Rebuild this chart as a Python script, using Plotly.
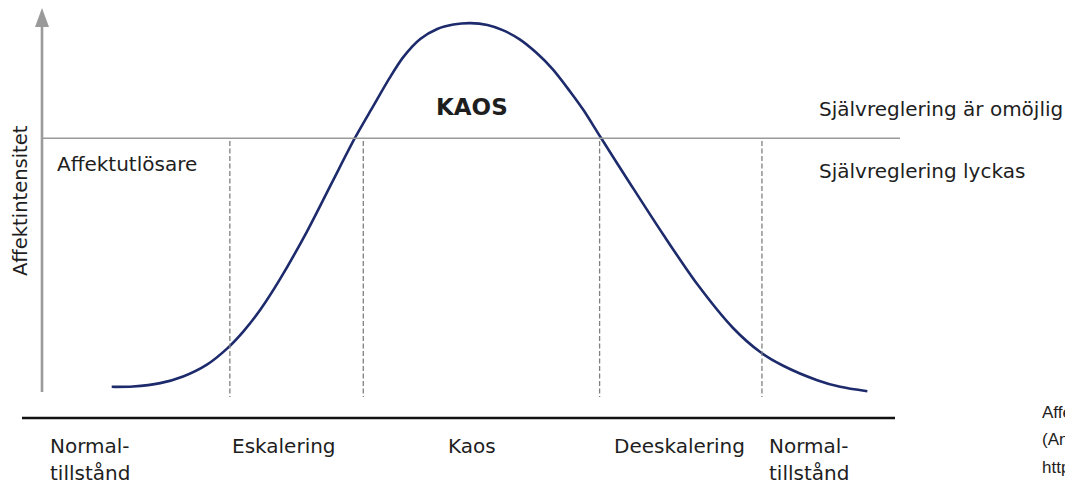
import plotly.graph_objects as go

# ---- data ----
# affect intensity curve: time (x) vs intensity (y, 0 = baseline, 100 = peak)
curve_x = [8.2, 10.7, 13.9, 16.6, 19.4, 21.8, 23.7, 25.7, 28.0, 31.2, 34.2, 36.8,
           38.9, 40.9, 42.5, 44.5, 46.5, 48.4, 50.4, 52.4, 54.2, 56.2, 58.2,
           60.1, 62.1, 63.7, 65.7, 69.2, 73.1, 77.1, 81.3, 84.5, 87.2, 91.2,
           93.9, 97.1]
curve_y = [1.4, 1.5, 2.4, 4.2, 7.4, 11.8, 16.4, 22.3, 30.5, 43.5, 57.0, 68.6,
           77.0, 84.9, 90.5, 95.4, 98.1, 99.3, 99.7, 99.2, 97.8, 95.3, 91.6,
           87.2, 81.3, 76.2, 68.9, 56.3, 42.5, 29.1, 17.3, 10.8, 7.1, 3.2,
           1.4, 0.2]
threshold = 68.6                         # self-regulation limit
phase_bounds = [22.1, 37.8, 65.6, 84.7]  # dashed phase separators
phase_labels = [["Normal-", "tillstånd"], ["Eskalering"], ["Kaos"],
                ["Deeskalering"], ["Normal-", "tillstånd"]]
y_title = "Affektintensitet"
trigger_label = "Affektutlösare"
zone_label = "KAOS"
above_label = "Självreglering är omöjlig"
below_label = "Självreglering lyckas"
source_lines = ["Affektintensitetskurva", "(Anpassad efter ...)", "https://..."]

# ---- layout geometry (page pixel mapping; page body has an 8px margin) ----
PW, PH = 1073, 485
OFF = 8
W, H = PW - OFF, PH - OFF
X0, SX = 42, 8.5      # page pixel x of x=0, pixels per x unit
Y0, SY = 392, 3.7     # page pixel y of y=0, pixels per y unit
xr = [(OFF - X0) / SX, (PW - X0) / SX]
yr = [(Y0 - PH) / SY, (Y0 - OFF) / SY]

def dx(px):
    return (px - X0) / SX

def dy(py):
    return (Y0 - py) / SY

def pp(px, py):
    return (px - OFF) / W, 1 - (py - OFF) / H

FONT = "DejaVu Sans"
TXT = "#1e1e1e"
GREY = "#9a9a9a"

fig = go.Figure()

# main curve
fig.add_trace(go.Scatter(x=curve_x, y=curve_y, mode="lines",
                         line=dict(color="#1d2b6c", width=2.6, shape="spline", smoothing=0.8),
                         hoverinfo="skip"))

shapes = []
# y axis line + arrow head
shapes.append(dict(type="line", xref="x", yref="y", x0=0, x1=0, y0=0, y1=dy(24),
                   line=dict(color=GREY, width=2.6)))
shapes.append(dict(type="path", xref="x", yref="y",
                   path=f"M {dx(X0 - 7)},{dy(27)} L {dx(X0)},{dy(8)} L {dx(X0 + 7)},{dy(27)} Z",
                   fillcolor=GREY, line=dict(color=GREY, width=0)))
# threshold line
shapes.append(dict(type="line", xref="x", yref="y", x0=0, x1=dx(900), y0=threshold, y1=threshold,
                   line=dict(color=GREY, width=1.6)))
# dashed phase separators
for b in phase_bounds:
    shapes.append(dict(type="line", xref="x", yref="y", x0=b, x1=b, y0=dy(141), y1=dy(397),
                       line=dict(color="#808080", width=1.3, dash="5px,2.5px")))
# bottom baseline
shapes.append(dict(type="line", xref="x", yref="y", x0=dx(22), x1=dx(895), y0=dy(418), y1=dy(418),
                   line=dict(color="#111111", width=2.4)))

ann = []

def text(t, px, py, size=20, xanchor="left", bold=False, angle=0, color=TXT, family=FONT):
    x, y = pp(px, py)
    ann.append(dict(text=f"<b>{t}</b>" if bold else t, x=x, y=y, xref="paper", yref="paper",
                    xanchor=xanchor, yanchor="middle", showarrow=False, textangle=angle,
                    font=dict(family=family, size=size, color=color)))

text(y_title, 20, 201, size=19.5, xanchor="center", angle=-90)
text(trigger_label, 55, 164)
text(zone_label, 472, 107, size=23, xanchor="center", bold=True)
text(above_label, 817, 109)
text(below_label, 817, 171)

label_px = [48, 230, 472, 612, 767]
label_anchor = ["left", "left", "center", "left", "left"]
for lines, px, anc in zip(phase_labels, label_px, label_anchor):
    for i, ln in enumerate(lines):
        text(ln, px, 446 + 27 * i, xanchor=anc)

for i, ln in enumerate(source_lines):
    text(ln, 1040, 412 + 27.5 * i, size=17, family="Liberation Sans")

fig.update_layout(
    width=W, height=H, margin=dict(l=0, r=0, t=0, b=0),
    paper_bgcolor="white", plot_bgcolor="white", showlegend=False,
    xaxis=dict(range=xr, visible=False, fixedrange=True),
    yaxis=dict(range=yr, visible=False, fixedrange=True),
    shapes=shapes, annotations=ann,
)

fig.write_html("out.html", config={"displayModeBar": False})
